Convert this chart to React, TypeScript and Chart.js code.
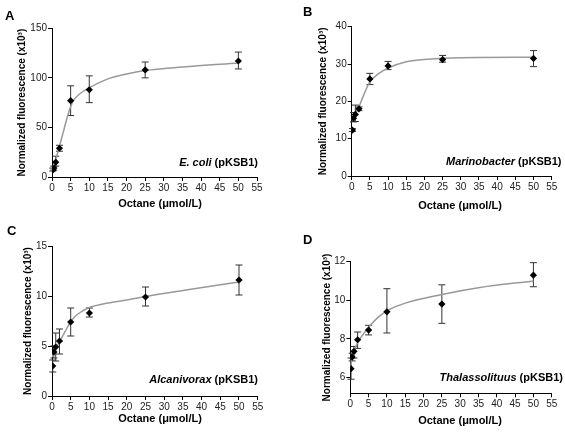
import React, { useEffect, useRef } from "react";
import { Chart, registerables } from "chart.js";

Chart.register(...registerables);

// ---------- data ----------
const octane = [0.2, 0.5, 1, 2, 5, 10, 25, 50];
const xTickValues = [0, 5, 10, 15, 20, 25, 30, 35, 40, 45, 50, 55];

// A: E. coli
const ecoliMean = [7, 9, 15, 29, 77, 88, 108, 117];
const ecoliLow = [6, 7, 11, 26, 62, 75, 100, 109];
const ecoliHigh = [9, 11, 21, 32, 92, 102, 116, 126];
const ecoliFitX = [0, 1, 2, 3, 4, 5, 6, 7.5, 10, 15, 20, 25, 35, 50];
const ecoliFitY = [4, 17.5, 31, 45, 59, 71, 78.5, 84, 90, 99, 104, 107.5, 111, 115];

// B: Marinobacter
const marinoMean = [12.3, 15.5, 16.5, 18.0, 26.0, 29.5, 31.2, 31.5];
const marinoLow = [11.9, 14.5, 14.6, 17.5, 24.5, 28.5, 30.5, 29.3];
const marinoHigh = [12.7, 17.0, 19.0, 18.5, 27.5, 30.7, 32.3, 33.6];
const marinoFitX = [0, 1, 2, 3, 5, 7.5, 10, 15, 20, 30, 50];
const marinoFitY = [15, 16.6, 18.5, 21, 25.2, 27.5, 28.9, 30.6, 31.2, 31.7, 31.8];

// C: Alcanivorax
const alcaMean = [3.0, 4.4, 4.9, 5.5, 7.4, 8.3, 9.9, 11.6];
const alcaLow = [2.4, 3.8, 3.5, 4.2, 6.0, 7.9, 9.0, 10.1];
const alcaHigh = [3.6, 5.0, 6.3, 6.7, 8.8, 8.8, 10.9, 13.1];
const alcaFitX = [0, 1, 2, 3, 4, 5, 6, 7.5, 10, 15, 20, 25, 35, 50];
const alcaFitY = [3.9, 4.7, 5.4, 6.1, 6.8, 7.4, 7.9, 8.35, 8.85, 9.3, 9.6, 9.95, 10.55, 11.4];

// D: Thalassolituus
const thalaMean = [6.45, 7.05, 7.35, 7.95, 8.45, 9.4, 9.8, 11.3];
const thalaLow = [5.9, 6.85, 7.0, 7.5, 8.2, 8.3, 8.8, 10.7];
const thalaHigh = [7.0, 7.25, 7.6, 8.35, 8.7, 10.6, 10.8, 11.95];
const thalaFitX = [0, 0.5, 1, 2, 3, 5, 7.5, 10, 15, 25, 35, 50];
const thalaFitY = [6.5, 7.05, 7.35, 7.8, 8.1, 8.6, 9.1, 9.45, 9.85, 10.3, 10.65, 11.0];

const yTicksA = [0, 50, 100, 150];
const yTicksB = [0, 10, 20, 30, 40];
const yTicksC = [0, 5, 10, 15];
const yTicksD = [6, 8, 10, 12];

const FONT = "'Liberation Sans', Arial, Helvetica, sans-serif";

type Panel = {
  letter: string;
  species: string;
  mean: number[];
  low: number[];
  high: number[];
  fitX: number[];
  fitY: number[];
  yMin: number;
  yMax: number;
  yTicks: number[];
  canvasLeft: number;
  canvasTop: number;
  canvasW: number;
  canvasH: number;
  areaLeft: number;
  areaTop: number;
  areaRight: number;
  areaBottom: number;
  yTitleX: number;
  xTitleX: number;
  xTitleY: number;
  labelRight: number;
  labelY: number;
  letterX: number;
  letterY: number;
};

const panels: Panel[] = [
  {
    letter: "A", species: "E. coli",
    mean: ecoliMean, low: ecoliLow, high: ecoliHigh, fitX: ecoliFitX, fitY: ecoliFitY,
    yMin: 0, yMax: 150, yTicks: yTicksA,
    canvasLeft: 0, canvasTop: 0, canvasW: 282, canvasH: 215,
    areaLeft: 52, areaTop: 28.3, areaRight: 257, areaBottom: 177,
    yTitleX: 22.5, xTitleX: 160, xTitleY: 203.5, labelRight: 258, labelY: 163,
    letterX: 5, letterY: 19.5,
  },
  {
    letter: "B", species: "Marinobacter",
    mean: marinoMean, low: marinoLow, high: marinoHigh, fitX: marinoFitX, fitY: marinoFitY,
    yMin: 0, yMax: 40, yTicks: yTicksB,
    canvasLeft: 282, canvasTop: 0, canvasW: 283, canvasH: 215,
    areaLeft: 351.7, areaTop: 26.7, areaRight: 551.7, areaBottom: 176,
    yTitleX: 323.3, xTitleX: 460, xTitleY: 206, labelRight: 561.5, labelY: 161.7,
    letterX: 303, letterY: 15.5,
  },
  {
    letter: "C", species: "Alcanivorax",
    mean: alcaMean, low: alcaLow, high: alcaHigh, fitX: alcaFitX, fitY: alcaFitY,
    yMin: 0, yMax: 15, yTicks: yTicksC,
    canvasLeft: 0, canvasTop: 215, canvasW: 282, canvasH: 219,
    areaLeft: 52, areaTop: 246, areaRight: 257.7, areaBottom: 396,
    yTitleX: 28.7, xTitleX: 160, xTitleY: 418.5, labelRight: 258, labelY: 380,
    letterX: 7, letterY: 234.5,
  },
  {
    letter: "D", species: "Thalassolituus",
    mean: thalaMean, low: thalaLow, high: thalaHigh, fitX: thalaFitX, fitY: thalaFitY,
    yMin: 5.17, yMax: 12, yTicks: yTicksD,
    canvasLeft: 282, canvasTop: 215, canvasW: 283, canvasH: 219,
    areaLeft: 350.3, areaTop: 261.7, areaRight: 551.7, areaBottom: 393.3,
    yTitleX: 327, xTitleX: 460, xTitleY: 420.5, labelRight: 563, labelY: 378.3,
    letterX: 303, letterY: 243.5,
  },
];

function makeChart(canvas: HTMLCanvasElement, p: Panel) {
  const yTitleLine = 12;
  const extras = {
    id: "extras" + p.letter,
    beforeDatasetsDraw(chart: any) {
      const ctx = chart.ctx;
      const xs = chart.scales.x;
      const ys = chart.scales.y;
      ctx.save();
      ctx.strokeStyle = "#333";
      ctx.lineWidth = 1;
      for (let i = 0; i < octane.length; i++) {
        const px = xs.getPixelForValue(octane[i]);
        const pl = ys.getPixelForValue(p.low[i]);
        const ph = ys.getPixelForValue(p.high[i]);
        ctx.beginPath();
        ctx.moveTo(px, pl);
        ctx.lineTo(px, ph);
        ctx.moveTo(px - 3.5, pl);
        ctx.lineTo(px + 3.5, pl);
        ctx.moveTo(px - 3.5, ph);
        ctx.lineTo(px + 3.5, ph);
        ctx.stroke();
      }
      ctx.restore();
    },
    afterDraw(chart: any) {
      const ctx = chart.ctx;
      ctx.save();
      ctx.fillStyle = "#000";
      ctx.font = `bold 11px ${FONT}`;
      ctx.textAlign = "center";
      ctx.textBaseline = "middle";
      ctx.fillText("Octane (μmol/L)", p.xTitleX - p.canvasLeft, p.xTitleY - p.canvasTop);
      const right = p.labelRight - p.canvasLeft;
      const y = p.labelY - p.canvasTop;
      ctx.textAlign = "right";
      ctx.font = `bold 11px ${FONT}`;
      const suffix = " (pKSB1)";
      ctx.fillText(suffix, right, y);
      const w = ctx.measureText(suffix).width;
      ctx.font = `italic bold 11px ${FONT}`;
      ctx.fillText(p.species, right - w, y);
      ctx.textAlign = "left";
      ctx.textBaseline = "alphabetic";
      ctx.font = `bold 13px ${FONT}`;
      ctx.fillText(p.letter, p.letterX - p.canvasLeft, p.letterY - p.canvasTop);
      ctx.restore();
    },
  };

  const yWidth = p.areaLeft - p.canvasLeft;
  const xHeight = p.canvasTop + p.canvasH - p.areaBottom;

  return new Chart(canvas, {
    type: "scatter",
    data: {
      datasets: [
        {
          label: "measured",
          data: octane.map((x, i) => ({ x, y: p.mean[i] })),
          pointStyle: "rectRot",
          pointRadius: 3.6,
          backgroundColor: "#000",
          borderColor: "#000",
          borderWidth: 0,
          showLine: false,
          order: 0,
        },
        {
          label: "fit",
          data: p.fitX.map((x, i) => ({ x, y: p.fitY[i] })),
          showLine: true,
          pointRadius: 0,
          borderColor: "#999",
          borderWidth: 1.5,
          cubicInterpolationMode: "monotone",
          fill: false,
          order: 1,
        },
      ],
    },
    options: {
      responsive: false,
      animation: false,
      devicePixelRatio: 1,
      layout: {
        padding: {
          left: 0,
          top: p.areaTop - p.canvasTop,
          right: p.canvasLeft + p.canvasW - p.areaRight,
          bottom: 0,
        },
      },
      plugins: {
        legend: { display: false },
        tooltip: { enabled: false },
      },
      scales: {
        x: {
          type: "linear",
          min: 0,
          max: 55,
          afterBuildTicks: (s: any) => {
            s.ticks = xTickValues.map((v) => ({ value: v }));
          },
          afterFit: (s: any) => {
            s.height = xHeight;
          },
          ticks: {
            font: { family: FONT, size: 10 },
            color: "#222",
            padding: 1,
            maxRotation: 0,
            autoSkip: false,
          },
          grid: {
            display: true,
            drawOnChartArea: false,
            drawTicks: true,
            tickLength: 4,
            color: "#000",
            lineWidth: 1,
          },
          border: { display: true, color: "#000", width: 1 },
          title: { display: false },
        },
        y: {
          type: "linear",
          min: p.yMin,
          max: p.yMax,
          afterBuildTicks: (s: any) => {
            s.ticks = p.yTicks.map((v) => ({ value: v }));
          },
          afterFit: (s: any) => {
            s.width = yWidth;
          },
          ticks: {
            font: { family: FONT, size: 10 },
            color: "#222",
            padding: 1,
            autoSkip: false,
          },
          grid: {
            display: true,
            drawOnChartArea: false,
            drawTicks: true,
            tickLength: 4,
            color: "#000",
            lineWidth: 1,
          },
          border: { display: true, color: "#000", width: 1 },
          title: {
            display: true,
            text: "Normalized fluorescence (x10³)",
            font: { family: FONT, size: 10, weight: "bold" },
            color: "#000",
            padding: { top: p.yTitleX - p.canvasLeft - yTitleLine / 2, bottom: 0 },
          },
        },
      },
    } as any,
    plugins: [extras],
  });
}

function PanelChart({ p }: { p: Panel }) {
  const ref = useRef<HTMLCanvasElement | null>(null);
  useEffect(() => {
    if (!ref.current) return;
    const chart = makeChart(ref.current, p);
    return () => chart.destroy();
  }, [p]);
  return (
    <canvas
      ref={ref}
      width={p.canvasW}
      height={p.canvasH}
      style={{
        position: "absolute",
        left: p.canvasLeft,
        top: p.canvasTop,
        width: p.canvasW,
        height: p.canvasH,
      }}
    />
  );
}

export default function App() {
  return (
    <div
      style={{
        position: "absolute",
        left: 0,
        top: 0,
        width: 565,
        height: 434,
        background: "#fff",
        overflow: "hidden",
      }}
    >
      {panels.map((p) => (
        <PanelChart key={p.letter} p={p} />
      ))}
    </div>
  );
}
